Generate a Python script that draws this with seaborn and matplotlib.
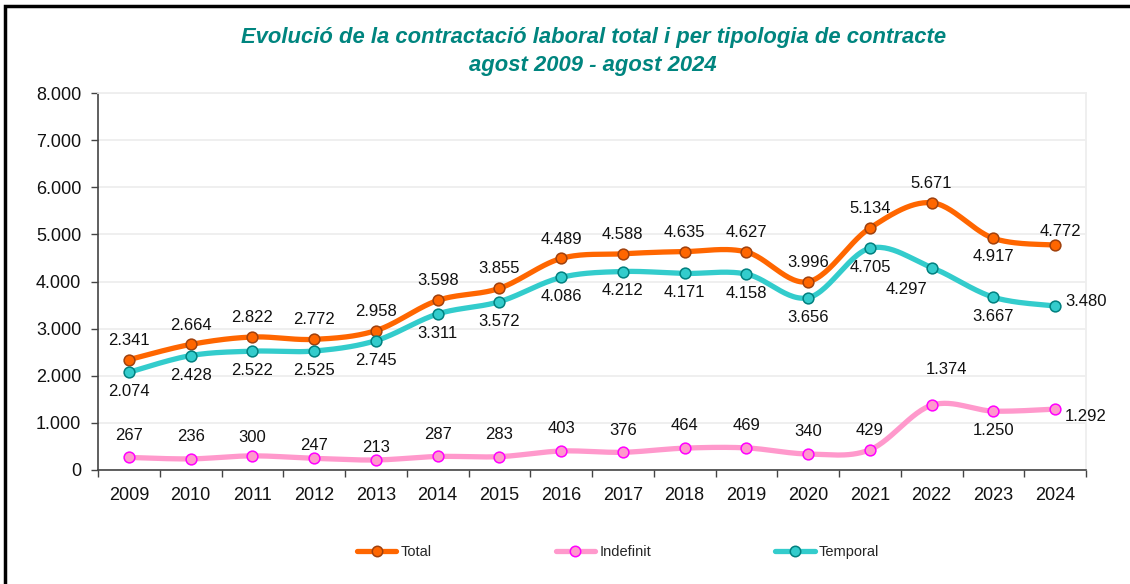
import numpy as np
import pandas as pd
import matplotlib.pyplot as plt
import seaborn as sns
from matplotlib.lines import Line2D
from matplotlib.patches import Rectangle

# --- data ---
years = [2009, 2010, 2011, 2012, 2013, 2014, 2015, 2016,
         2017, 2018, 2019, 2020, 2021, 2022, 2023, 2024]
total = [2341, 2664, 2822, 2772, 2958, 3598, 3855, 4489,
         4588, 4635, 4627, 3996, 5134, 5671, 4917, 4772]
indefinit = [267, 236, 300, 247, 213, 287, 283, 403,
             376, 464, 469, 340, 429, 1374, 1250, 1292]
temporal = [2074, 2428, 2522, 2525, 2745, 3311, 3572, 4086,
            4212, 4171, 4158, 3656, 4705, 4297, 3667, 3480]

# label placement (offsets in points, dx, dy)
total_off = {i: (0, 14) for i in range(16)}
total_off[14] = (0, -13)
total_off[15] = (4, 10)
temp_off = {i: (0, -14) for i in range(16)}
temp_off[13] = (-18, -16)
temp_off[15] = (22, 3)
indef_off = {i: (0, 16) for i in range(16)}
indef_off[2] = (0, 13)
indef_off[3] = (0, 9)
indef_off[4] = (0, 9)
indef_off[12] = (0, 14)
indef_off[13] = (11, 26)
indef_off[14] = (0, -14)
indef_off[15] = (22, -5)


def fmt(v):
    return f"{v:,}".replace(",", ".")


def smooth(xs, ys, n=30):
    # Catmull-Rom style bezier, like Excel's smoothed line
    xs = np.asarray(xs, float)
    ys = np.asarray(ys, float)
    px = np.concatenate([[xs[0]], xs, [xs[-1]]])
    py = np.concatenate([[ys[0]], ys, [ys[-1]]])
    ox, oy = [], []
    t = np.linspace(0, 1, n)
    for i in range(1, len(px) - 2):
        p0 = np.array([px[i - 1], py[i - 1]])
        p1 = np.array([px[i], py[i]])
        p2 = np.array([px[i + 1], py[i + 1]])
        p3 = np.array([px[i + 2], py[i + 2]])
        c1 = p1 + (p2 - p0) / 6
        c2 = p2 - (p3 - p1) / 6
        b = ((1 - t) ** 3)[:, None] * p1 + (3 * (1 - t) ** 2 * t)[:, None] * c1 \
            + (3 * (1 - t) * t ** 2)[:, None] * c2 + (t ** 3)[:, None] * p2
        ox.extend(b[:, 0])
        oy.extend(b[:, 1])
    return pd.DataFrame({"x": ox, "y": oy})


sns.set_theme(style="white")
plt.rcParams["font.family"] = ["Liberation Sans", "DejaVu Sans"]

fig = plt.figure(figsize=(11.3, 5.84), dpi=100)
ax = fig.add_axes([98 / 1130, 114 / 584, 988 / 1130, 377 / 584])

pos = np.arange(len(years))
series = [
    ("Total", total, "#FF6600", "#FF6600", "#A0410D", total_off),
    ("Indefinit", indefinit, "#FF99CC", "#FF99CC", "#FF00FF", indef_off),
    ("Temporal", temporal, "#33CCCC", "#33CCCC", "#00807F", temp_off),
]

handles = []
for name, vals, lc, fc, ec, offs in series:
    sm = smooth(pos, vals)
    sns.lineplot(data=sm, x="x", y="y", sort=False, estimator=None,
                 color=lc, linewidth=3.8, ax=ax, zorder=3)
    sns.scatterplot(x=pos, y=vals, color=fc, edgecolor=ec, linewidth=1.1,
                    s=60, ax=ax, zorder=4)
    for i, v in enumerate(vals):
        dx, dy = offs[i]
        ax.annotate(fmt(v), (pos[i], v), xytext=(dx, dy),
                    textcoords="offset points", ha="center", va="center",
                    fontsize=12, color="#111111", zorder=5)
    handles.append(Line2D([], [], color=lc, linewidth=3.8, marker="o",
                          markersize=7.5, markerfacecolor=fc,
                          markeredgecolor=ec, markeredgewidth=1.1, label=name))

ax.set_xlim(-0.5, 15.5)
ax.set_ylim(0, 8000)
ax.set_yticks(range(0, 8001, 1000))
ax.set_yticklabels([fmt(v) for v in range(0, 8001, 1000)])
ax.set_xticks(pos)
ax.set_xticklabels([str(y) for y in years])
ax.set_xticks(np.arange(-0.5, 15.6, 1), minor=True)
ax.tick_params(axis="x", which="major", length=0, pad=12, labelsize=13,
               labelcolor="#111111")
ax.tick_params(axis="x", which="minor", length=5, width=1, color="#444444",
               bottom=True, direction="out")
ax.tick_params(axis="y", length=5, width=1, color="#444444", left=True,
               direction="out", pad=7, labelsize=13, labelcolor="#111111")
ax.set_xlabel("")
ax.set_ylabel("")
ax.grid(axis="y", color="#EEEEEE", linewidth=1.3)
ax.set_axisbelow(True)
for s in ["left", "bottom"]:
    ax.spines[s].set_color("#444444")
    ax.spines[s].set_linewidth(1.2)
for s in ["top", "right"]:
    ax.spines[s].set_color("#EEEEEE")
    ax.spines[s].set_linewidth(1.3)

fig.text(0.525, 1 - 38 / 584,
         "Evolució de la contractació laboral total i per tipologia de contracte",
         ha="center", va="center", fontsize=15.8, fontweight="bold",
         fontstyle="italic", color="#00857F")
fig.text(0.525, 1 - 66 / 584, "agost 2009 - agost 2024",
         ha="center", va="center", fontsize=15.8, fontweight="bold",
         fontstyle="italic", color="#00857F")

fig.legend(handles=handles, loc="center", bbox_to_anchor=(0.547, 1 - 552 / 584),
           ncol=3, frameon=False, fontsize=10.5, handlelength=2.7,
           handletextpad=0.3, columnspacing=8.5)

# outer chart frame
fig.patches.append(Rectangle((5 / 1130, -0.1), 1.2, 1 - 6 / 584 + 0.1,
                             transform=fig.transFigure, fill=False,
                             edgecolor="black", linewidth=2.5))

fig.savefig("out.png", dpi=100)
